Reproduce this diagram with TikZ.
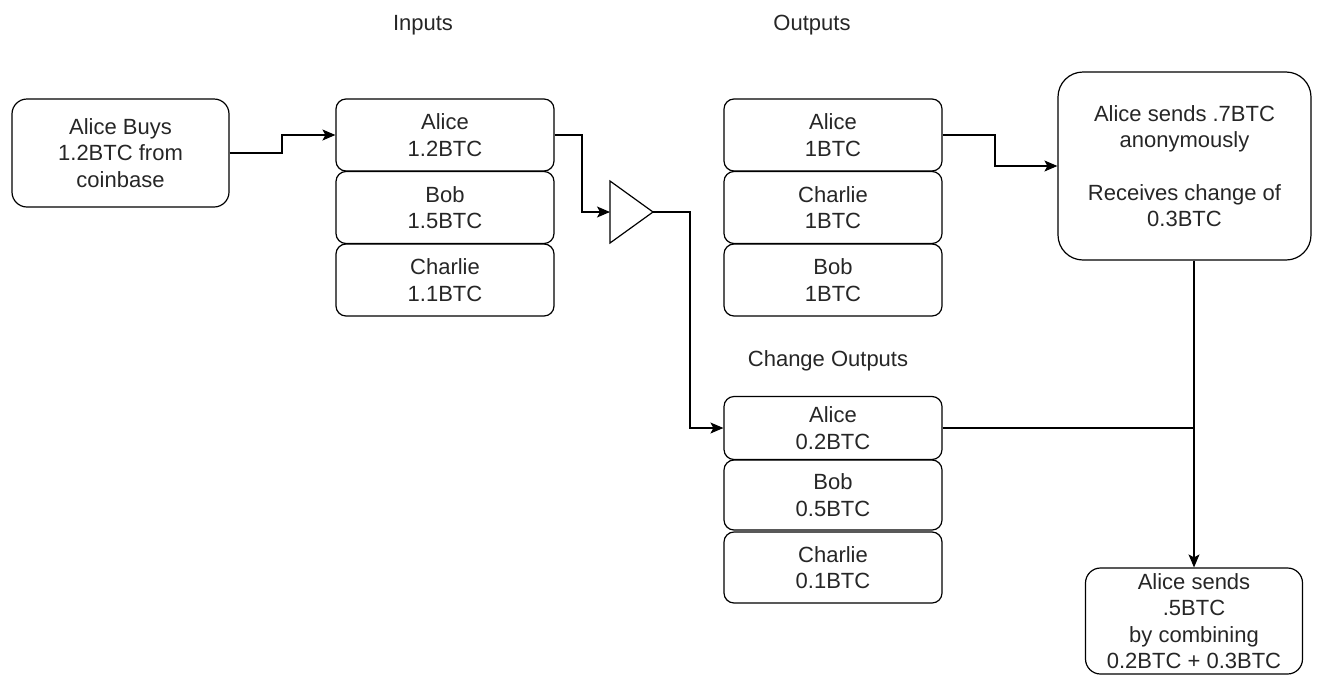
\documentclass[tikz,border=0pt]{standalone}
\usepackage{fontspec}
\setmainfont{Liberation Sans}
\usetikzlibrary{arrows.meta}

\tikzset{
    coin/.style={draw, rounded corners=10pt, line width=1.2pt, align=center,
        minimum width=218pt, minimum height=72pt, inner sep=0pt,
        text=black!85, font=\fontsize{22}{26.5}\selectfont},
    wire/.style={line width=1.2pt},
    arr/.style={wire, -{Stealth[length=13pt,width=11pt,inset=3pt]}},
    heading/.style={text=black!85, font=\fontsize{22}{26.5}\selectfont}
}

\begin{document}
\begin{tikzpicture}[x=1pt, y=-1pt]
    \useasboundingbox (0,0) rectangle (1321,675);
    \begin{scope} % Headings
        \node[heading] (hin) at (423,25) {Inputs};
        \node[heading] (hout) at (812,25) {Outputs};
        \node[heading] (hchange) at (828,361) {Change Outputs};
    \end{scope}
    \begin{scope} % Purchase and inputs
        \node[coin, minimum width=217pt, minimum height=108pt, rounded corners=15pt]
            (buy) at (120.5,153) {Alice Buys\\1.2BTC from\\coinbase};
        \node[coin] (inA) at (445,135) {Alice\\1.2BTC};
        \node[coin] (inB) at (445,207.5) {Bob\\1.5BTC};
        \node[coin] (inC) at (445,280) {Charlie\\1.1BTC};
    \end{scope}
    \begin{scope} % Mixer
        \coordinate (mixin) at (610,212);
        \coordinate (mixout) at (653,212);
        \draw[wire, line join=miter] (610,181) -- (mixout) -- (610,243) -- cycle;
    \end{scope}
    \begin{scope} % Outputs
        \node[coin] (outA) at (833,135) {Alice\\1BTC};
        \node[coin] (outC) at (833,207.5) {Charlie\\1BTC};
        \node[coin] (outB) at (833,280) {Bob\\1BTC};
        \node[coin, minimum height=63pt] (chA) at (833,428) {Alice\\0.2BTC};
        \node[coin, minimum height=70pt] (chB) at (833,495) {Bob\\0.5BTC};
        \node[coin, minimum height=71pt] (chC) at (833,567.5) {Charlie\\0.1BTC};
    \end{scope}
    \begin{scope} % Spending
        \node[coin, minimum width=253pt, minimum height=188pt, rounded corners=25pt]
            (send) at (1184.5,166)
            {Alice sends .7BTC\\anonymously\\[26pt]Receives change of\\0.3BTC};
        \node[coin, minimum width=217pt, minimum height=106pt, rounded corners=15pt]
            (comb) at (1194,621)
            {Alice sends\\.5BTC\\by combining\\0.2BTC + 0.3BTC};
    \end{scope}
    \begin{scope} % Connectors
        \coordinate (bend1) at (282,153);
        \coordinate (bend2) at (582,135);
        \coordinate (bend3) at (690,212);
        \coordinate (bend4) at (995,135);
        \coordinate (drop) at (send.south -| comb.north);
        \draw[arr] (buy.east) -- (bend1) |- (inA.west);
        \draw[arr] (inA.east) -- (bend2) |- (mixin);
        \draw[arr] (mixout) -- (bend3) |- (chA.west);
        \draw[arr] (outA.east) -- (bend4) |- (send.west);
        \draw[arr] (drop) -- (comb.north);
        \draw[wire] (chA.east) -- (chA.east -| drop);
    \end{scope}
\end{tikzpicture}
\end{document}
